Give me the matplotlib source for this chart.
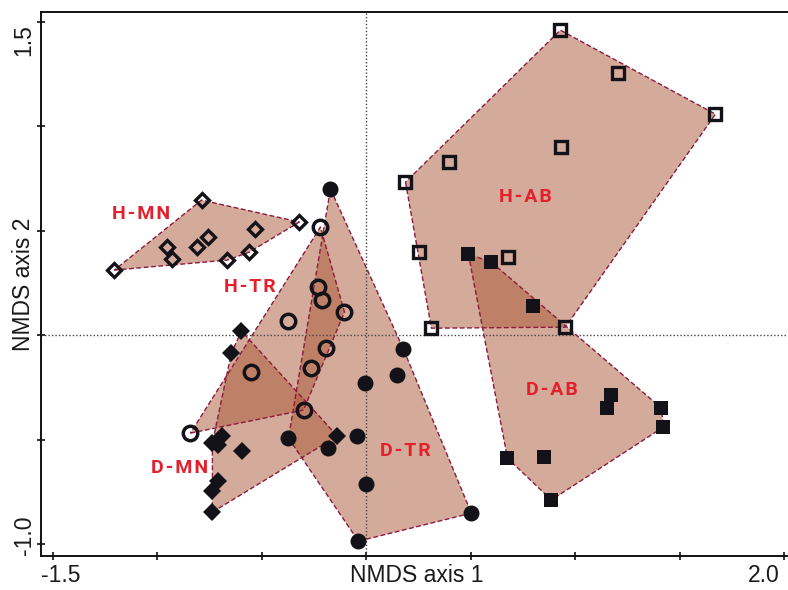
import numpy as np
import matplotlib
matplotlib.use("Agg")
import matplotlib.pyplot as plt

# NMDS site scores per group (axis 1, axis 2)
h_mn_x = [-0.789, -0.321, -1.206, -0.952, -0.928, -0.809, -0.756, -0.531, -0.665, -0.560]
h_mn_y = [0.646, 0.541, 0.311, 0.421, 0.364, 0.421, 0.469, 0.507, 0.359, 0.397]

h_tr_x = [-0.220, -0.230, -0.211, -0.105, -0.373, -0.191, -0.263, -0.550, -0.301, -0.842]
h_tr_y = [0.517, 0.230, 0.167, 0.110, 0.067, -0.062, -0.158, -0.177, -0.359, -0.469]

h_ab_x = [0.928, 1.206, 1.670, 0.933, 0.397, 0.187, 0.254, 0.679, 0.311, 0.952]
h_ab_y = [1.459, 1.254, 1.057, 0.900, 0.828, 0.732, 0.397, 0.373, 0.033, 0.038]

d_mn_x = [-0.598, -0.646, -0.689, -0.737, -0.708, -0.593, -0.708, -0.737, -0.737, -0.139]
d_mn_y = [0.019, -0.086, -0.483, -0.517, -0.526, -0.555, -0.699, -0.746, -0.847, -0.483]

d_tr_x = [-0.172, 0.177, 0.148, -0.005, -0.373, -0.043, -0.182, 0.000, 0.502, -0.038]
d_tr_y = [0.699, -0.067, -0.191, -0.230, -0.493, -0.483, -0.541, -0.713, -0.852, -0.986]

d_ab_x = [0.488, 0.598, 0.799, 1.172, 1.153, 1.411, 1.421, 0.675, 0.852, 0.885]
d_ab_y = [0.388, 0.349, 0.139, -0.287, -0.349, -0.349, -0.440, -0.589, -0.584, -0.789]

group_names = ["H-MN", "H-TR", "H-AB", "D-MN", "D-TR", "D-AB"]
label_x = [-1.077, -0.560, 0.761, -0.896, 0.187, 0.885]
label_y = [0.579, 0.230, 0.663, -0.636, -0.557, -0.261]

x_tick_values = [-1.5, -1.0, -0.5, 0.0, 0.5, 1.0, 1.5, 2.0]
y_tick_values = [-1.0, -0.5, 0.0, 0.5, 1.0, 1.5]

INK = "#121218"
HULL_FACE = "#ab5737"
HULL_EDGE = "#8b1a3c"
LABEL_RED = "#e3202c"

groups = {
    "H-MN": (h_mn_x, h_mn_y, dict(marker="D", ms=7.6, mfc="none", mec=INK, mew=2.4)),
    "H-TR": (h_tr_x, h_tr_y, dict(marker="o", ms=10.4, mfc="none", mec=INK, mew=2.5)),
    "H-AB": (h_ab_x, h_ab_y, dict(marker="s", ms=8.6, mfc="none", mec=INK, mew=2.4)),
    "D-MN": (d_mn_x, d_mn_y, dict(marker="D", ms=8.8, mfc=INK, mec=INK, mew=0)),
    "D-TR": (d_tr_x, d_tr_y, dict(marker="o", ms=11.5, mfc=INK, mec=INK, mew=0)),
    "D-AB": (d_ab_x, d_ab_y, dict(marker="s", ms=10.3, mfc=INK, mec=INK, mew=0)),
}


def convex_hull(xs, ys):
    pts = sorted(set(zip(xs, ys)))

    def cross(o, a, b):
        return (a[0] - o[0]) * (b[1] - o[1]) - (a[1] - o[1]) * (b[0] - o[0])

    lower, upper = [], []
    for p in pts:
        while len(lower) >= 2 and cross(lower[-2], lower[-1], p) <= 0:
            lower.pop()
        lower.append(p)
    for p in reversed(pts):
        while len(upper) >= 2 and cross(upper[-2], upper[-1], p) <= 0:
            upper.pop()
        upper.append(p)
    return np.array(lower[:-1] + upper[:-1])


W, H = 788, 590
fig = plt.figure(figsize=(W / 100, H / 100), dpi=100)
plt.rcParams["font.family"] = ["Liberation Sans", "DejaVu Sans"]

# axes frame in pixels: left 41, top 12, bottom 556, right at figure edge
ax = fig.add_axes([41 / W, (H - 556) / H, (W - 41) / W, 544 / H])
ax.set_xlim(-1.557, -1.557 + 747 / 209)
ax.set_ylim(-1.057, -1.057 + 544 / 209)

for name, (xs, ys, style) in groups.items():
    hull = convex_hull(xs, ys)
    ax.fill(hull[:, 0], hull[:, 1], facecolor=HULL_FACE, alpha=0.5,
            edgecolor="none", zorder=1)
    closed = np.vstack([hull, hull[:1]])
    ax.plot(closed[:, 0], closed[:, 1], color=HULL_EDGE, lw=1.0,
            dashes=(3.5, 1.8), zorder=3)
    ax.plot(xs, ys, linestyle="none", zorder=4, **style)

for name, lx, ly in zip(group_names, label_x, label_y):
    spaced = "\u200a".join(name)
    ax.text(lx, ly, spaced, color=LABEL_RED, fontsize=14, fontweight="bold",
            family=["Roboto", "DejaVu Sans"], ha="center", va="center", zorder=5)

ax.axvline(0, color="#444444", lw=1.0, ls=(0, (1, 1.5)), zorder=2)
ax.axhline(0, color="#444444", lw=1.0, ls=(0, (1, 1.5)), zorder=2)

ax.spines["right"].set_visible(False)
for s in ("left", "bottom", "top"):
    ax.spines[s].set_linewidth(1.4)
    ax.spines[s].set_color("#111111")

ax.set_xticks(x_tick_values)
ax.set_yticks(y_tick_values)
ax.set_xticklabels([])
ax.set_yticklabels([])
ax.tick_params(direction="inout", length=6, width=1.2, color="#111111")


def fig_text(px, py, s, **kw):
    fig.text(px / W, 1 - py / H, s, ha="center", va="center",
             fontsize=16.5, color="#1a1a1a", **kw)


# end labels of each axis and the axis titles
fig_text(60.5, 575, f"{x_tick_values[0]:.1f}")
fig_text(763.5, 575, f"{x_tick_values[-1]:.1f}")
fig_text(416.5, 575, "NMDS axis 1")
fig_text(24, 40.5, f"{y_tick_values[-1]:.1f}", rotation=90)
fig_text(24, 535, f"{y_tick_values[0]:.1f}", rotation=90)
fig_text(24, 284.5, "NMDS axis 2", rotation=90)

fig.savefig("out.png", dpi=100)
